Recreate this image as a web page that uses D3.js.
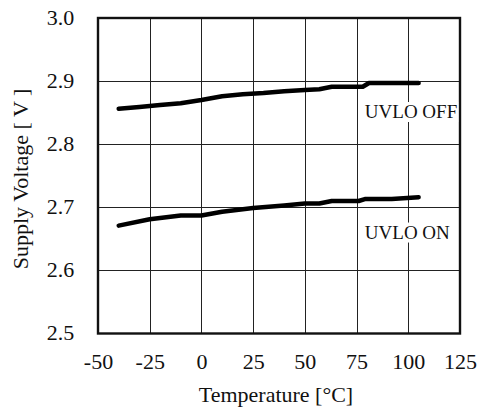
<!DOCTYPE html>
<html>
<head>
<meta charset="utf-8">
<script src="https://cdn.jsdelivr.net/npm/d3@7/dist/d3.min.js"></script>
<style>
  html, body { margin: 0; padding: 0; background: #fff; }
  svg text { font-family: "Liberation Serif", "Times New Roman", serif; fill: #111; }
</style>
</head>
<body>
<svg id="chart" width="486" height="418"></svg>
<script>
// UVLO threshold vs. temperature
const tempTicks = [-50, -25, 0, 25, 50, 75, 100, 125];
const voltTicks = [2.5, 2.6, 2.7, 2.8, 2.9, 3.0];

const offTemp = [-40, -30, -20, -10, 0, 10, 20, 30, 40, 50, 57, 63, 78, 81, 105];
const offVolt = [2.856, 2.859, 2.862, 2.865, 2.870, 2.876, 2.879, 2.881, 2.884, 2.886, 2.887, 2.891, 2.891, 2.897, 2.897];

const onTemp = [-40, -25, -10, 0, 10, 25, 40, 50, 57, 63, 76, 79, 92, 105];
const onVolt = [2.671, 2.681, 2.687, 2.687, 2.693, 2.699, 2.703, 2.706, 2.706, 2.710, 2.710, 2.713, 2.713, 2.716];

const seriesLabels = ["UVLO OFF", "UVLO ON"];

const svg = d3.select("#chart");
const L = 98, R = 460, T = 18, B = 333.5;
const SERIF = '"Liberation Serif", "Times New Roman", serif';
const fs = 20;     // axis text size
const sx = 1.1;    // axis text is set slightly wide

const x = d3.scaleLinear().domain([-50, 125]).range([L, R]);
const y = d3.scaleLinear().domain([2.5, 3.0]).range([B, T]);

// grid
const grid = svg.append("g").attr("stroke", "#222").attr("stroke-width", 1);
grid.selectAll("line.v").data(tempTicks.slice(1, -1)).join("line")
  .attr("x1", d => Math.round(x(d)) + 0.5).attr("x2", d => Math.round(x(d)) + 0.5)
  .attr("y1", T).attr("y2", B);
grid.selectAll("line.h").data(voltTicks.slice(1, -1)).join("line")
  .attr("y1", d => Math.round(y(d)) + 0.5).attr("y2", d => Math.round(y(d)) + 0.5)
  .attr("x1", L).attr("x2", R);

// axes (labels only; the frame is drawn separately)
const xAxis = d3.axisBottom(x).tickValues(tempTicks).tickSize(0).tickPadding(0)
  .tickFormat(d => String(d));
const gx = svg.append("g").attr("transform", `translate(0,${B})`).call(xAxis);
gx.select(".domain").remove();
gx.selectAll("text").attr("dy", 0).attr("y", 36)
  .attr("transform", `scale(${sx},1)`)
  .style("font-family", SERIF).style("font-size", fs + "px").style("fill", "#111");

const yAxis = d3.axisLeft(y).tickValues(voltTicks).tickSize(0).tickPadding(0)
  .tickFormat(d3.format(".1f"));
const gy = svg.append("g").attr("transform", `translate(${L},0)`).call(yAxis);
gy.select(".domain").remove();
gy.selectAll("text").attr("x", -23.7 / sx).attr("dy", "0.32em")
  .attr("transform", `scale(${sx},1)`)
  .style("font-family", SERIF).style("font-size", fs + "px").style("fill", "#111");

// frame
svg.append("rect").attr("x", L).attr("y", T).attr("width", R - L).attr("height", B - T)
  .attr("fill", "none").attr("stroke", "#111").attr("stroke-width", 2.4);

// curves
const line = d3.line().x(d => x(d[0])).y(d => y(d[1]));
const series = [d3.zip(offTemp, offVolt), d3.zip(onTemp, onVolt)];
svg.append("g").selectAll("path").data(series).join("path")
  .attr("d", line).attr("fill", "none").attr("stroke", "#000")
  .attr("stroke-width", 4.5).attr("stroke-linecap", "round").attr("stroke-linejoin", "round");

// series labels with white backing
const labelPos = [[79, 2.8415], [79, 2.6505]];
labelPos.forEach((p, i) => {
  const g = svg.append("g");
  const t = g.append("text").attr("x", x(p[0])).attr("y", y(p[1]))
    .style("font-size", "19px").text(seriesLabels[i]);
  const bb = t.node().getBBox();
  g.insert("rect", "text").attr("x", bb.x - 1).attr("y", bb.y + 1)
    .attr("width", bb.width + 2).attr("height", bb.height - 1).attr("fill", "#fff");
});

// axis titles
svg.append("text").attr("transform", `translate(276,401.5) scale(${sx},1)`)
  .attr("text-anchor", "middle").style("font-size", fs + "px").text("Temperature [°C]");
svg.append("text").attr("transform", `translate(28,179) rotate(-90) scale(${sx},1)`)
  .attr("text-anchor", "middle").style("font-size", fs + "px").text("Supply Voltage [ V ]");
</script>
</body>
</html>
